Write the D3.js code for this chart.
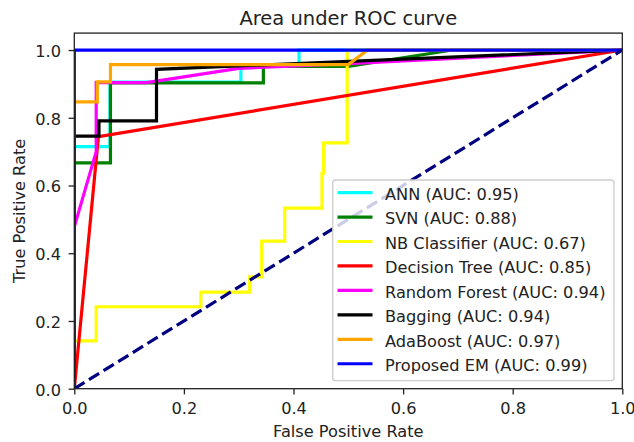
<!DOCTYPE html>
<html>
<head>
<meta charset="utf-8">
<script src="https://cdn.jsdelivr.net/npm/d3@7"></script>
<style>
  html, body { margin: 0; padding: 0; background: #fff; }
  svg { display: block; font-family: "DejaVu Sans", sans-serif; }
</style>
</head>
<body>
<svg id="chart" width="634" height="442"></svg>
<script>
// ---- data ----
const seriesNames = ["ANN", "SVN", "NB Classifier", "Decision Tree", "Random Forest", "Bagging", "AdaBoost", "Proposed EM"];
const aucValues = [0.95, 0.88, 0.67, 0.85, 0.94, 0.94, 0.97, 0.99];
const seriesColors = ["#00ffff", "#008000", "#ffff00", "#ff0000", "#ff00ff", "#000000", "#ffa500", "#0000ff"];

const annPoints = [[0,0],[0,0.715],[0.065,0.715],[0.065,0.905],[0.304,0.905],[0.304,0.955],[0.41,0.955],[0.41,1],[1,1]];
const svnPoints = [[0,0],[0,0.667],[0.066,0.667],[0.066,0.903],[0.345,0.903],[0.345,0.952],[0.5,0.952],[0.69,1],[1,1]];
const nbPoints = [[0,0],[0,0.141],[0.04,0.141],[0.04,0.242],[0.231,0.242],[0.231,0.285],[0.32,0.285],[0.32,0.33],[0.342,0.33],[0.342,0.436],[0.384,0.436],[0.384,0.533],[0.452,0.533],[0.452,0.636],[0.455,0.636],[0.455,0.726],[0.498,0.726],[0.498,1],[1,1]];
const dtPoints = [[0,0],[0.044,0.744],[1,1]];
const rfPoints = [[0,0],[0,0.478],[0.04,0.70],[0.04,0.904],[0.132,0.904],[0.30,0.946],[0.5,0.96],[1,1]];
const baggingPoints = [[0,0],[0,0.746],[0.045,0.746],[0.045,0.791],[0.15,0.791],[0.15,0.943],[1,1]];
const adaPoints = [[0,0],[0,0.847],[0.042,0.847],[0.042,0.906],[0.066,0.906],[0.066,0.957],[0.5,0.957],[0.535,1],[1,1]];
const emPoints = [[0,0],[0,1],[1,1]];
const allSeries = [annPoints, svnPoints, nbPoints, dtPoints, rfPoints, baggingPoints, adaPoints, emPoints];
const chancePoints = [[0,0],[1,1]];

const xTicks = [0, 0.2, 0.4, 0.6, 0.8, 1.0];
const yTicks = [0, 0.2, 0.4, 0.6, 0.8, 1.0];

// ---- layout ----
const svg = d3.select("#chart");
const pLeft = 74.3, pRight = 622.3, pTop = 33.1, pBottom = 388.7;
const x = d3.scaleLinear().domain([0, 1]).range([pLeft, pRight]);
const y = d3.scaleLinear().domain([0, 1.05]).range([pBottom, pTop]);
const fs = 16.2;
const textColor = "#222";

svg.append("defs").append("clipPath").attr("id", "plotclip")
  .append("rect").attr("x", pLeft).attr("y", pTop).attr("width", pRight - pLeft).attr("height", pBottom - pTop);

const line = d3.line().x(d => x(d[0])).y(d => y(d[1]));
const plot = svg.append("g").attr("clip-path", "url(#plotclip)");

allSeries.forEach((pts, i) => {
  plot.append("path").datum(pts).attr("d", line)
    .attr("fill", "none").attr("stroke", seriesColors[i]).attr("stroke-width", 3.2)
    .attr("stroke-linejoin", "miter").attr("stroke-linecap", "butt");
});
plot.append("path").datum(chancePoints).attr("d", line)
  .attr("fill", "none").attr("stroke", "#000080").attr("stroke-width", 3.2)
  .attr("stroke-dasharray", "12,5.2");

// axes
const xAxis = d3.axisBottom(x).tickValues(xTicks).tickFormat(d3.format(".1f")).tickSize(5.7).tickPadding(8.1);
const yAxis = d3.axisLeft(y).tickValues(yTicks).tickFormat(d3.format(".1f")).tickSize(5.7).tickPadding(7.6);
const gx = svg.append("g").attr("transform", `translate(0,${pBottom})`).call(xAxis);
const gy = svg.append("g").attr("transform", `translate(${pLeft},0)`).call(yAxis);
[gx, gy].forEach(g => {
  g.select(".domain").remove();
  g.selectAll(".tick line").attr("stroke", textColor).attr("stroke-width", 1.3);
  g.selectAll(".tick text").attr("fill", textColor).style("font-size", fs + "px").style("font-family", "DejaVu Sans");
});
gy.selectAll(".tick text").attr("dy", "0.4em");

// frame
svg.append("rect").attr("x", pLeft).attr("y", pTop).attr("width", pRight - pLeft).attr("height", pBottom - pTop)
  .attr("fill", "none").attr("stroke", textColor).attr("stroke-width", 1.3);

// title & labels
svg.append("text").attr("x", (pLeft + pRight) / 2).attr("y", 25).attr("text-anchor", "middle")
  .attr("fill", textColor).style("font-size", "19.5px").text("Area under ROC curve");
svg.append("text").attr("x", (pLeft + pRight) / 2).attr("y", 437).attr("text-anchor", "middle")
  .attr("fill", textColor).style("font-size", fs + "px").text("False Positive Rate");
svg.append("text").attr("transform", `translate(25,${(pTop + pBottom) / 2}) rotate(-90)`).attr("text-anchor", "middle")
  .attr("fill", textColor).style("font-size", fs + "px").text("True Positive Rate");

// legend
const lg = svg.append("g");
lg.append("rect").attr("x", 332.7).attr("y", 180).attr("width", 614 - 332.7).attr("height", 380.7 - 180)
  .attr("rx", 3).attr("ry", 3)
  .attr("fill", "#ffffff").attr("fill-opacity", 0.8).attr("stroke", "#cccccc").attr("stroke-width", 1.3);
seriesNames.forEach((name, i) => {
  const ry = 192.6 + i * 24.45;
  lg.append("line").attr("x1", 337.5).attr("x2", 372.5).attr("y1", ry).attr("y2", ry)
    .attr("stroke", seriesColors[i]).attr("stroke-width", 3.2);
  lg.append("text").attr("x", 385).attr("y", ry + 7.3).attr("fill", textColor)
    .style("font-size", fs + "px").text(`${name} (AUC: ${aucValues[i].toFixed(2)})`);
});
</script>
</body>
</html>
